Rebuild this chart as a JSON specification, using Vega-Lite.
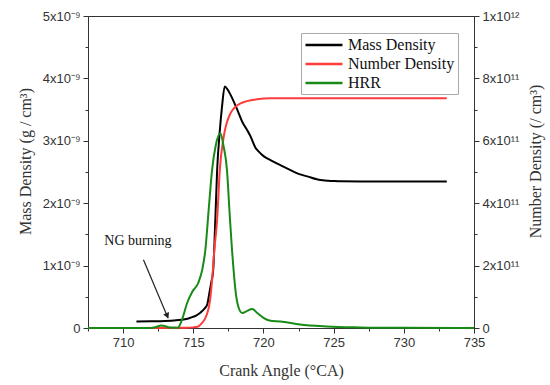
{
  "$schema": "https://vega.github.io/schema/vega-lite/v6.json",
  "width": 386,
  "height": 312,
  "autosize": "none",
  "padding": {"left": 88, "top": 16, "right": 76, "bottom": 57},
  "background": "white",
  "config": {
    "view": {"stroke": "#333", "strokeWidth": 1},
    "axis": {
      "grid": false,
      "domainColor": "#333",
      "tickColor": "#333",
      "labelFont": "Liberation Sans",
      "labelFontSize": 13,
      "labelColor": "#333",
      "titleFont": "Liberation Serif",
      "titleFontSize": 16,
      "titleFontWeight": "normal",
      "titleColor": "#333"
    },
    "legend": {
      "orient": "none",
      "legendX": 213,
      "legendY": 17,
      "symbolType": "M-1,0H3.93",
      "symbolSize": 225,
      "symbolStrokeWidth": 2.5,
      "labelFont": "Liberation Serif",
      "labelFontSize": 16,
      "labelColor": "#111",
      "strokeColor": "#aaa",
      "fillColor": "white",
      "padding": 3,
      "rowPadding": 2,
      "labelOffset": 26
    }
  },
  "datasets": {
    "mass": [
      {"ca": 710.95, "value": 1.06e-10},
      {"ca": 712.0, "value": 1.08e-10},
      {"ca": 713.0, "value": 1.13e-10},
      {"ca": 713.8, "value": 1.25e-10},
      {"ca": 714.4, "value": 1.4e-10},
      {"ca": 714.8, "value": 1.65e-10},
      {"ca": 715.2, "value": 2.0e-10},
      {"ca": 715.5, "value": 2.45e-10},
      {"ca": 715.8, "value": 3.1e-10},
      {"ca": 716.0, "value": 3.8e-10},
      {"ca": 716.16, "value": 5.8e-10},
      {"ca": 716.3, "value": 7.5e-10},
      {"ca": 716.42, "value": 9.3e-10},
      {"ca": 716.55, "value": 1.6e-9},
      {"ca": 716.7, "value": 2.53e-9},
      {"ca": 716.88, "value": 3.13e-9},
      {"ca": 717.05, "value": 3.55e-9},
      {"ca": 717.24, "value": 3.87e-9},
      {"ca": 717.45, "value": 3.82e-9},
      {"ca": 717.65, "value": 3.74e-9},
      {"ca": 718.13, "value": 3.5e-9},
      {"ca": 718.5, "value": 3.3e-9},
      {"ca": 718.84, "value": 3.17e-9},
      {"ca": 719.08, "value": 3.07e-9},
      {"ca": 719.43, "value": 2.89e-9},
      {"ca": 719.65, "value": 2.83e-9},
      {"ca": 720.03, "value": 2.75e-9},
      {"ca": 720.5, "value": 2.69e-9},
      {"ca": 721.2, "value": 2.61e-9},
      {"ca": 721.93, "value": 2.53e-9},
      {"ca": 722.5, "value": 2.47e-9},
      {"ca": 723.12, "value": 2.43e-9},
      {"ca": 724.07, "value": 2.37e-9},
      {"ca": 725.0, "value": 2.355e-9},
      {"ca": 725.5, "value": 2.35e-9},
      {"ca": 727.0, "value": 2.347e-9},
      {"ca": 733.06, "value": 2.347e-9}
    ],
    "number": [
      {"ca": 711.0, "value": 0},
      {"ca": 714.5, "value": 1e9},
      {"ca": 715.0, "value": 2e9},
      {"ca": 715.3, "value": 4e9},
      {"ca": 715.6, "value": 1.5e10},
      {"ca": 715.9, "value": 3.6e10},
      {"ca": 716.2, "value": 9.1e10},
      {"ca": 716.4, "value": 1.87e11},
      {"ca": 716.5, "value": 2.5e11},
      {"ca": 716.7, "value": 3.47e11},
      {"ca": 716.89, "value": 5.07e11},
      {"ca": 717.17, "value": 6.13e11},
      {"ca": 717.65, "value": 6.88e11},
      {"ca": 718.37, "value": 7.2e11},
      {"ca": 719.55, "value": 7.33e11},
      {"ca": 720.5, "value": 7.36e11},
      {"ca": 733.06, "value": 7.365e11}
    ],
    "hrr": [
      {"ca": 707.5, "value": 0},
      {"ca": 712.0, "value": 0},
      {"ca": 712.4, "value": 0.4},
      {"ca": 712.7, "value": 0.8},
      {"ca": 713.0, "value": 0.6},
      {"ca": 713.3, "value": 0.15},
      {"ca": 713.9, "value": 0.1},
      {"ca": 714.2, "value": 2.7},
      {"ca": 714.57, "value": 8.1},
      {"ca": 714.93, "value": 11.6},
      {"ca": 715.36, "value": 14.5},
      {"ca": 715.64, "value": 18.7},
      {"ca": 715.86, "value": 25},
      {"ca": 716.1, "value": 38},
      {"ca": 716.34, "value": 50.7},
      {"ca": 716.6, "value": 58.5},
      {"ca": 716.93, "value": 62.4},
      {"ca": 717.15, "value": 58.5},
      {"ca": 717.4, "value": 50.7},
      {"ca": 717.6, "value": 36},
      {"ca": 717.76, "value": 25},
      {"ca": 717.87, "value": 18.7},
      {"ca": 718.0, "value": 12.3},
      {"ca": 718.24, "value": 6.4},
      {"ca": 718.49, "value": 4.8},
      {"ca": 718.84, "value": 5.5},
      {"ca": 719.2, "value": 6.1},
      {"ca": 719.56, "value": 4.8},
      {"ca": 720.03, "value": 3.2},
      {"ca": 720.5, "value": 2.3},
      {"ca": 721.2, "value": 2.1},
      {"ca": 722.6, "value": 1.1},
      {"ca": 724.5, "value": 0.5},
      {"ca": 726.9, "value": 0.2},
      {"ca": 730.0, "value": 0.05},
      {"ca": 735.0, "value": 0}
    ],
    "label": [
      {"ca": 711.06, "value": 1.4e-9, "text": "NG burning"}
    ],
    "arrow": [
      {"ca": 711.45, "value": 1.094e-9, "ca2": 713.2, "value2": 1.6e-10}
    ],
    "head": [
      {"ca": 713.12, "value": 2.08e-10}
    ]
  },
  "encoding": {
    "x": {
      "field": "ca",
      "type": "quantitative",
      "scale": {"domain": [707.5, 735], "nice": false, "zero": false},
      "axis": {
        "title": "Crank Angle (°CA)",
        "values": [707.5, 710, 712.5, 715, 717.5, 720, 722.5, 725, 727.5, 730, 732.5, 735],
        "labelExpr": "datum.value % 5 == 0 ? datum.label : ''",
        "tickSize": {"condition": {"test": "datum.value % 5 == 0", "value": 5}, "value": 3},
        "labelPadding": 3,
        "labelFlush": false,
        "titleY": 42,
        "titleBaseline": "middle"
      }
    }
  },
  "layer": [
    {
      "data": {"name": "mass"},
      "mark": {"type": "line", "strokeWidth": 2, "interpolate": "monotone"},
      "encoding": {
        "y": {
          "field": "value",
          "type": "quantitative",
          "scale": {"domain": [0, 5e-9], "nice": false},
          "axis": {
            "orient": "left",
            "title": "Mass Density (g / cm³)",
            "values": [0, 5e-10, 1e-9, 1.5e-9, 2e-9, 2.5e-9, 3e-9, 3.5e-9, 4e-9, 4.5e-9, 5e-9],
            "labelExpr": "datum.value == 0 ? '0' : (abs(datum.value*1e9 - round(datum.value*1e9)) > 0.01 ? '' : round(datum.value*1e9) + 'x10⁻⁹')",
            "tickSize": {"condition": {"test": "abs(datum.value*1e9 - round(datum.value*1e9)) < 0.01", "value": 5}, "value": 3},
            "labelPadding": 3,
            "labelFlush": false,
            "titleX": -63,
            "titleY": 145,
            "titleAngle": -90,
            "titleBaseline": "middle",
            "titleAlign": "center"
          }
        },
        "color": {
          "datum": "Mass Density",
          "type": "nominal",
          "scale": {
            "domain": ["Mass Density", "Number Density", "HRR"],
            "range": ["#000000", "#ff3b3b", "#178a17"]
          },
          "legend": {"title": null}
        }
      }
    },
    {
      "data": {"name": "number"},
      "mark": {"type": "line", "strokeWidth": 2, "interpolate": "monotone"},
      "encoding": {
        "y": {
          "field": "value",
          "type": "quantitative",
          "scale": {"domain": [0, 1e12], "nice": false},
          "axis": {
            "orient": "right",
            "title": "Number Density (/ cm³)",
            "values": [0, 1e11, 2e11, 3e11, 4e11, 5e11, 6e11, 7e11, 8e11, 9e11, 1e12],
            "labelExpr": "datum.value == 0 ? '0' : (datum.value > 9.99e11 ? '1x10¹²' : (round(datum.value/1e11) % 2 == 0 ? round(datum.value/1e11) + 'x10¹¹' : ''))",
            "tickSize": {"condition": {"test": "round(datum.value/1e11) % 2 == 0", "value": 5}, "value": 3},
            "labelPadding": 3,
            "labelFlush": false,
            "titleX": 61,
            "titleY": 145,
            "titleAngle": -90,
            "titleBaseline": "middle",
            "titleAlign": "center"
          }
        },
        "color": {"datum": "Number Density", "type": "nominal"}
      }
    },
    {
      "data": {"name": "hrr"},
      "mark": {"type": "line", "strokeWidth": 2, "interpolate": "monotone"},
      "encoding": {
        "y": {
          "field": "value",
          "type": "quantitative",
          "scale": {"domain": [0, 100], "nice": false},
          "axis": null
        },
        "color": {"datum": "HRR", "type": "nominal"}
      }
    },
    {
      "data": {"name": "label"},
      "mark": {"type": "text", "font": "Liberation Serif", "fontSize": 14, "color": "#111", "align": "center", "baseline": "middle"},
      "encoding": {
        "y": {"field": "value", "type": "quantitative", "scale": {"domain": [0, 5e-9], "nice": false}, "axis": null},
        "text": {"field": "text"}
      }
    },
    {
      "data": {"name": "arrow"},
      "mark": {"type": "rule", "color": "#222", "strokeWidth": 1.2},
      "encoding": {
        "y": {"field": "value", "type": "quantitative", "scale": {"domain": [0, 5e-9], "nice": false}, "axis": null},
        "x2": {"field": "ca2"},
        "y2": {"field": "value2"}
      }
    },
    {
      "data": {"name": "head"},
      "mark": {"type": "point", "shape": "triangle", "filled": true, "color": "#222", "size": 40, "angle": 157, "opacity": 1},
      "encoding": {
        "y": {"field": "value", "type": "quantitative", "scale": {"domain": [0, 5e-9], "nice": false}, "axis": null}
      }
    }
  ],
  "resolve": {"scale": {"y": "independent"}}
}
